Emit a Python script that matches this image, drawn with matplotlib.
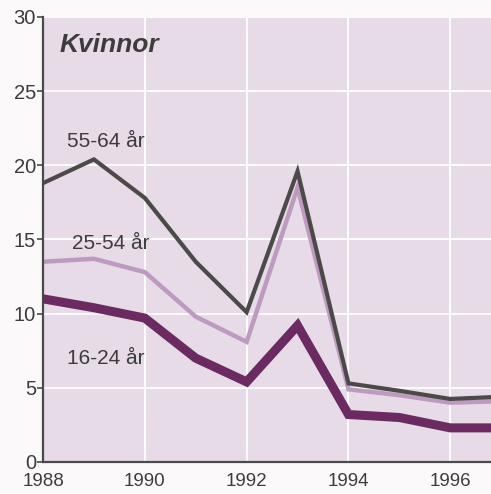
import matplotlib.pyplot as plt

years = [1988, 1989, 1990, 1991, 1992, 1993, 1994, 1995, 1996, 1997]
age_55_64 = [18.8, 20.4, 17.8, 13.5, 10.1, 19.6, 5.3, 4.8, 4.25, 4.4]
age_25_54 = [13.5, 13.7, 12.8, 9.8, 8.1, 18.5, 4.9, 4.5, 4.0, 4.1]
age_16_24 = [11.0, 10.4, 9.7, 7.0, 5.4, 9.2, 3.2, 3.0, 2.3, 2.3]
yticks = [0, 5, 10, 15, 20, 25, 30]
xticks = [1988, 1990, 1992, 1994, 1996]

plt.rcParams['font.family'] = ['Liberation Sans', 'DejaVu Sans']

fig = plt.figure(figsize=(4.91, 4.94), dpi=100)
fig.patch.set_facecolor('#fbf9f9')
ax = fig.add_axes([0.0876, 0.0648, 0.9124, 0.9008])
ax.set_facecolor('#e7dbe8')

ax.plot(years, age_55_64, color='#4b4a48', lw=3.0, solid_joinstyle='miter', zorder=3)
ax.plot(years, age_25_54, color='#bc9bbe', lw=3.2, solid_joinstyle='miter', zorder=2)
ax.plot(years, age_16_24, color='#6b2a61', lw=6.5, solid_joinstyle='miter', zorder=4)

ax.set_xlim(1988, 1996.8)
ax.set_ylim(0, 30)
ax.set_xticks(xticks)
ax.set_yticks(yticks)
ax.grid(True, color='white', lw=1.3)
ax.set_axisbelow(True)

for s in ['top', 'right']:
    ax.spines[s].set_visible(False)
ax.spines['left'].set_color('#4a4a4a')
ax.spines['left'].set_linewidth(1.6)
ax.spines['bottom'].set_color('#4a4a4a')
ax.spines['bottom'].set_linewidth(1.6)
ax.tick_params(axis='y', length=4, width=1.2, color='#4a4a4a', labelsize=14.5,
               labelcolor='#3c3c3c', pad=1)
# reference labels sit right at the bottom edge; keep them just inside
ax.tick_params(axis='x', length=0, labelsize=13.5, labelcolor='#3c3c3c', pad=8)

txt = '#3c3c3c'
ax.text(1988.33, 27.65, 'Kvinnor', fontsize=19, fontweight='bold', style='italic',
        color=txt, va='baseline')
ax.text(1988.47, 21.24, '55-64 år', fontsize=15, color=txt, va='baseline')
ax.text(1988.57, 14.36, '25-54 år', fontsize=15, color=txt, va='baseline')
ax.text(1988.47, 6.6, '16-24 år', fontsize=15, color=txt, va='baseline')

fig.savefig('out.png', dpi=100, facecolor=fig.get_facecolor())
